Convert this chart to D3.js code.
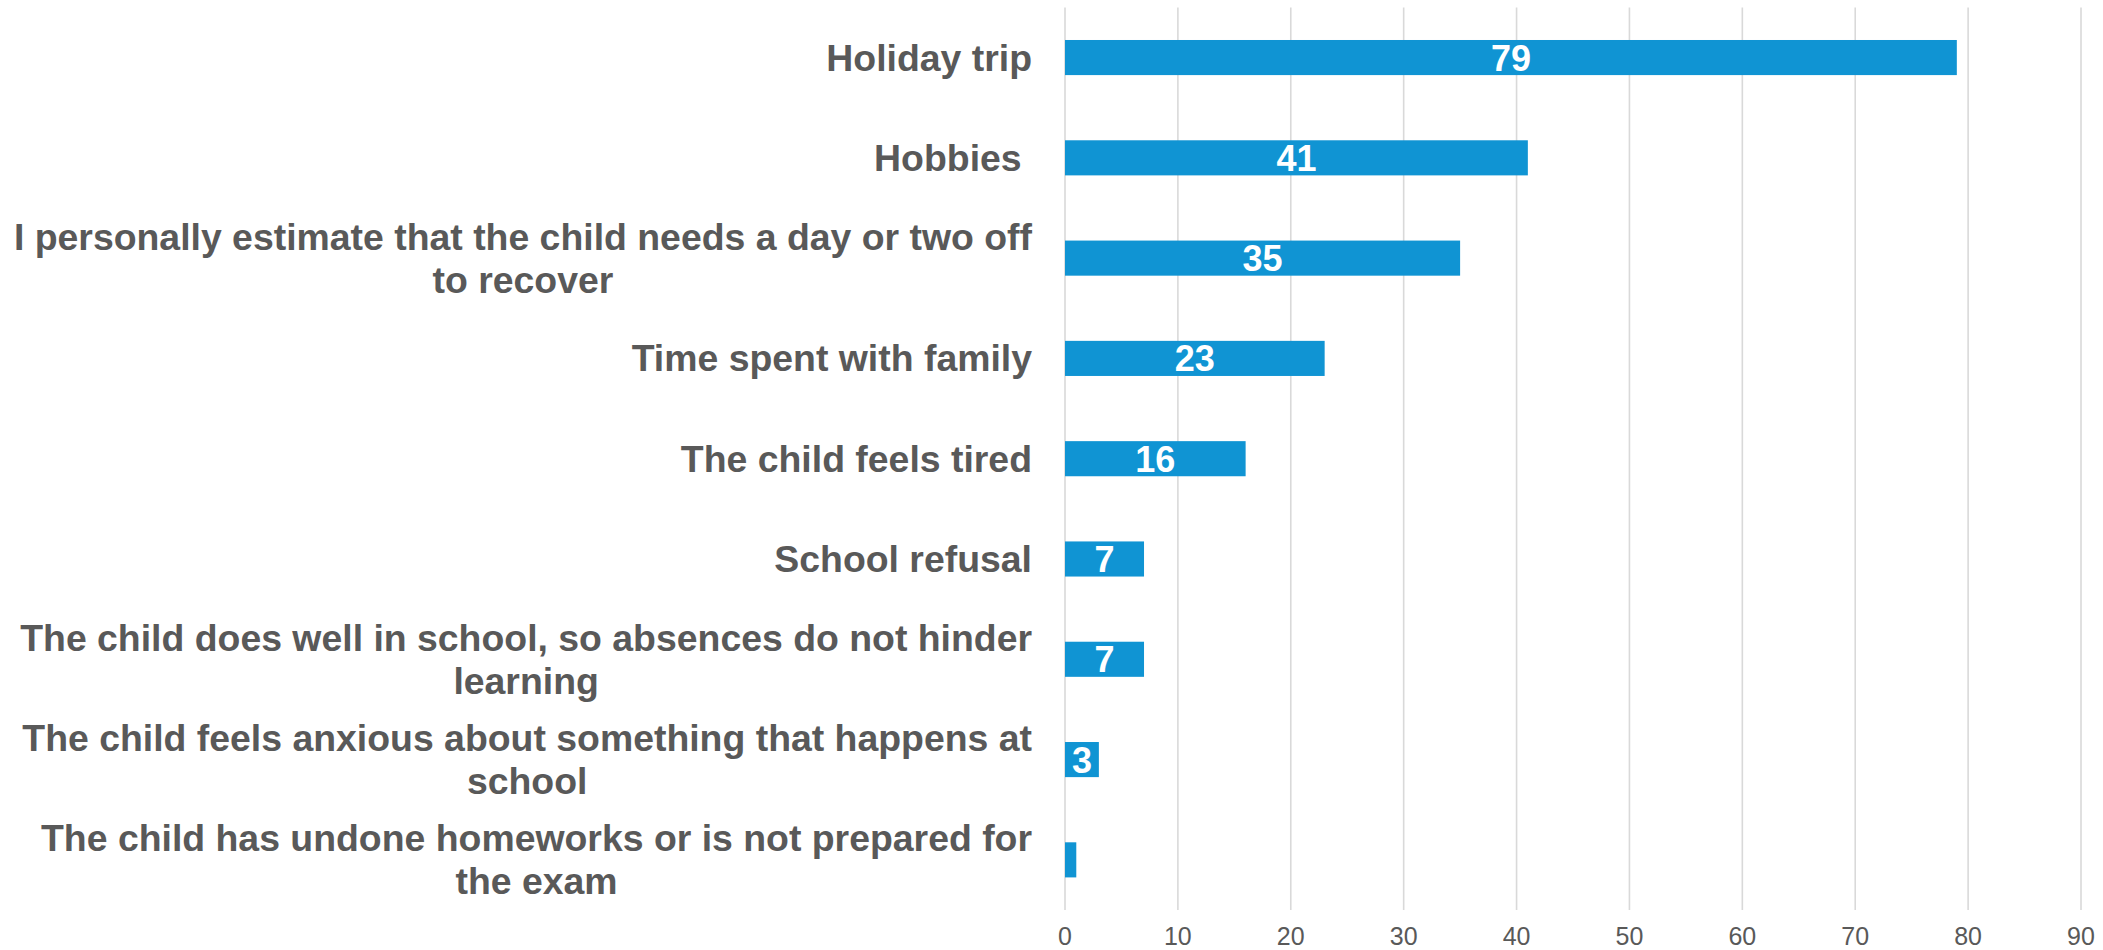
<!DOCTYPE html>
<html>
<head>
<meta charset="utf-8">
<script src="https://cdn.jsdelivr.net/npm/d3@7"></script>
<style>
  body { margin: 0; background: #fff; }
  svg { display: block; font-family: "Liberation Sans", Arial, sans-serif; }
</style>
</head>
<body>
<div id="chart"></div>
<script>
// Data (top to bottom), "\n" marks the line breaks of the labels
const categories = [
    "Holiday trip",
    "Hobbies ",
    "I personally estimate that the child needs a day or two off\nto recover",
    "Time spent with family",
    "The child feels tired",
    "School refusal",
    "The child does well in school, so absences do not hinder\nlearning",
    "The child feels anxious about something that happens at\nschool",
    "The child has undone homeworks or is not prepared for\nthe exam"
];
const values = [79, 41, 35, 23, 16, 7, 7, 3, 1];
const xTicks = [0, 10, 20, 30, 40, 50, 60, 70, 80, 90];

const data = categories.map((c, i) => ({name: c, value: values[i]}));

const width = 2103, height = 950;
const plotL = 1065, plotR = 2081, plotT = 7.4, plotB = 910;

const svg = d3.select("#chart")
    .append("svg")
    .attr("width", width)
    .attr("height", height);

const x = d3.scaleLinear()
    .domain([0, 90])
    .range([plotL, plotR]);

const y = d3.scaleBand()
    .domain(categories)
    .range([plotT, plotB])
    .paddingInner(0.65)
    .paddingOuter(0.325);

// Gridlines
svg.append("g")
    .selectAll("line")
    .data(xTicks)
    .enter()
    .append("line")
    .attr("x1", (d) => x(d))
    .attr("x2", (d) => x(d))
    .attr("y1", plotT)
    .attr("y2", plotB)
    .style("stroke", "#d9d9d9")
    .style("stroke-width", "1.6px");

// Tick labels
svg.append("g")
    .selectAll("text")
    .data(xTicks)
    .enter()
    .append("text")
    .attr("x", (d) => x(d))
    .attr("y", 945)
    .attr("text-anchor", "middle")
    .style("font-size", "25px")
    .style("fill", "#595959")
    .text((d) => d);

// Bars
svg.append("g")
    .selectAll("rect")
    .data(data)
    .enter()
    .append("rect")
    .attr("x", x(0))
    .attr("y", (d) => y(d.name))
    .attr("width", (d) => x(d.value) - x(0))
    .attr("height", y.bandwidth())
    .style("fill", "#1094d3");

// Value labels inside bars
svg.append("g")
    .selectAll("text")
    .data(data.filter((d) => d.value > 1))
    .enter()
    .append("text")
    .attr("x", (d) => (x(0) + x(d.value)) / 2)
    .attr("y", (d) => y(d.name) + y.bandwidth() / 2 + 13)
    .attr("text-anchor", "middle")
    .style("font-size", "36px")
    .style("font-weight", "bold")
    .style("fill", "#fff")
    .text((d) => d.value);

// Category labels, right aligned block, lines centred in the block
const lineH = 43;
const labels = svg.append("g")
    .selectAll("g")
    .data(data)
    .enter()
    .append("g");

labels.each(function(d) {
    const g = d3.select(this);
    const lines = d.name.split("\n");
    const cy = y(d.name) + y.bandwidth() / 2;
    const texts = lines.map((ln, i) => g.append("text")
        .attr("y", cy + (i - (lines.length - 1) / 2) * lineH + 13)
        .attr("xml:space", "preserve")
        .style("white-space", "pre")
        .style("font-size", "37.4px")
        .style("font-weight", "bold")
        .style("fill", "#595959")
        .text(ln));
    const widths = texts.map((t) => t.node().getComputedTextLength());
    const blockW = d3.max(widths);
    const centre = 1032 - blockW / 2;
    texts.forEach((t) => t.attr("x", centre).attr("text-anchor", "middle"));
});
</script>
</body>
</html>
